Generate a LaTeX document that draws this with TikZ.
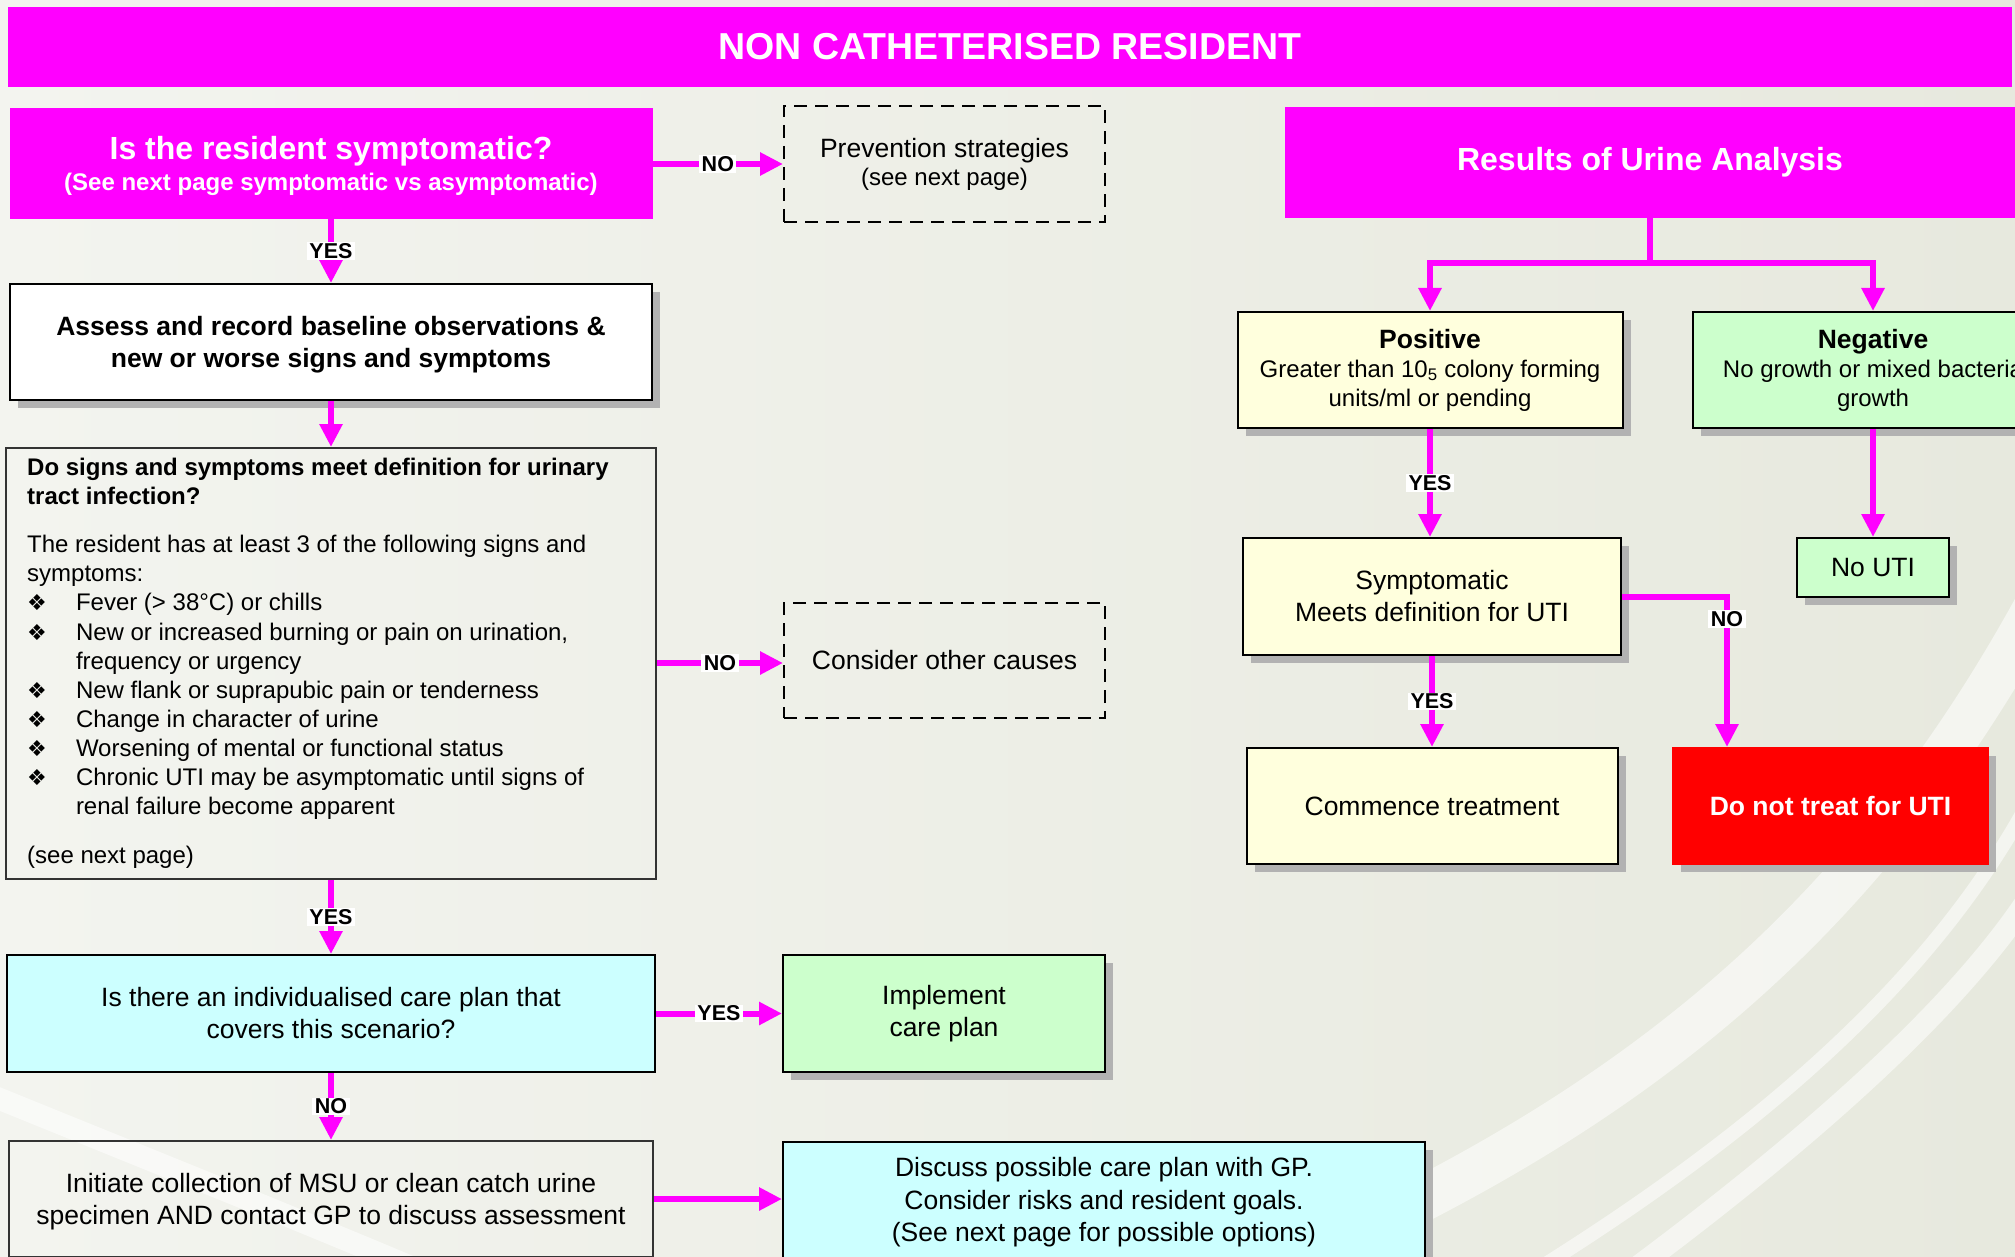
\documentclass[tikz,border=0pt]{standalone}
\usepackage{fontspec}
\setmainfont{Liberation Sans}
\newfontfamily\bulfont{DejaVu Sans}
\usetikzlibrary{arrows.meta,shadows,calc}
\definecolor{mag}{HTML}{FF00FF}
\definecolor{bgA}{HTML}{F3F4EF}
\definecolor{bgB}{HTML}{E7E9DE}
\definecolor{yel}{HTML}{FFFFDD}
\definecolor{grn}{HTML}{CCFFCC}
\definecolor{cyn}{HTML}{CCFFFF}
\definecolor{shd}{HTML}{B2B2B2}
\definecolor{redbox}{HTML}{FF0000}
\newcommand\ftitle{\fontsize{37.5}{44}\selectfont\bfseries}
\newcommand\fbig{\fontsize{32}{38}\selectfont\bfseries}
\newcommand\fmid{\fontsize{26.5}{32}\selectfont}
\newcommand\fsml{\fontsize{24}{29.1}\selectfont}
\newcommand\flab{\fontsize{21.5}{24}\selectfont\bfseries}
\newcommand\bul{\makebox[48.8pt][l]{\bulfont\fontsize{22}{22}\selectfont ❖}}
\newcommand\upst[1]{\rule{0pt}{#1}}
\begin{document}
\begin{tikzpicture}[x=1pt,y=-1pt,
  box/.style={draw=black, line width=2pt, rectangle, inner sep=0pt, align=center, text=black},
  shbox/.style={box, drop shadow={shadow xshift=8pt,shadow yshift=-8pt,fill=shd,opacity=1}},
  dbox/.style={draw=black, line width=2pt, dash pattern=on 13pt off 8pt, rectangle, align=center, inner sep=0pt},
  magbox/.style={fill=mag, text=white, rectangle, align=center, inner sep=0pt},
  flow/.style={draw=mag, line width=6pt, -{Triangle[length=23pt,width=22pt]}},
  link/.style={draw=mag, line width=6pt},
  lab/.style={fill=white, text=black, font=\flab, inner xsep=2.5pt, inner ysep=1pt},
  swoosh/.style={draw=white, opacity=0.55, line cap=round}
]
\useasboundingbox (0,0) rectangle (2015,1257);
\clip (0,0) rectangle (2015,1257);
\fill[left color=bgA, right color=bgB] (0,0) rectangle (2015,1257);
% decorative swooshes
\draw[swoosh, line width=45pt] (1250,1280) .. controls (1600,1130) and (1850,950) .. (2040,600);
\draw[swoosh, line width=14pt] (1520,1280) .. controls (1780,1120) and (1950,960) .. (2040,780);
\draw[swoosh, line width=22pt] (1620,1280) .. controls (1850,1110) and (1980,980) .. (2040,880);
\draw[swoosh, line width=22pt] (-10,1095) .. controls (150,1160) and (300,1220) .. (430,1275);

% nodes
\node[magbox, minimum width=2004pt, minimum height=80pt, font=\ftitle] (title) at (1010,47) {NON CATHETERISED RESIDENT};
\node[magbox, minimum width=643pt, minimum height=111pt] (symp) at (331,163.5)
  {{\fbig\upst{28.3pt}Is the resident symptomatic?}\\[6pt]{\fsml\bfseries (See next page symptomatic vs asymptomatic)}};
\node[dbox, minimum width=321pt, minimum height=116pt] (prev) at (944.5,164)
  {{\fmid Prevention strategies}\\[4pt]{\fsml (see next page)}};
\node[magbox, minimum width=730pt, minimum height=111pt, font=\fbig] (results) at (1650,162.5) {Results of Urine Analysis};

\node[shbox, fill=white, minimum width=642pt, minimum height=116pt, font=\fmid\bfseries] (assess) at (331,342)
  {\upst{24.3pt}Assess and record baseline observations \&\\new or worse signs and symptoms};

\node[box, draw=black!80, minimum width=650pt, minimum height=431pt] (dosigns) at (331,663.5) {};
\node[anchor=north west, inner sep=0pt, align=left, font=\fsml] (dotext) at (27,457.5)
  {\textbf{Do signs and symptoms meet definition for urinary}\\
   \textbf{tract infection?}\\[19.5pt]
   The resident has at least 3 of the following signs and\\
   symptoms:\\
   \bul Fever (> 38°C) or chills\\
   \bul New or increased burning or pain on urination,\\
   \hspace*{48.8pt}frequency or urgency\\
   \bul New flank or suprapubic pain or tenderness\\
   \bul Change in character of urine\\
   \bul Worsening of mental or functional status\\
   \bul Chronic UTI may be asymptomatic until signs of\\
   \hspace*{48.8pt}renal failure become apparent\\[19.5pt]
   (see next page)};

\node[dbox, minimum width=321pt, minimum height=115pt, font=\fmid] (consider) at (944.5,660.5) {Consider other causes};

\node[box, fill=cyn, minimum width=648pt, minimum height=117pt, font=\fmid] (careplan) at (331,1013.5)
  {Is there an individualised care plan that\\covers this scenario?};
\node[shbox, fill=grn, minimum width=322pt, minimum height=117pt, font=\fmid] (implement) at (944,1013.5)
  {Implement\\care plan};
\node[box, draw=black!80, minimum width=644pt, minimum height=116pt, font=\fmid] (initiate) at (331,1199)
  {\upst{24.3pt}Initiate collection of MSU or clean catch urine\\specimen AND contact GP to discuss assessment};
\node[shbox, fill=cyn, minimum width=642pt, minimum height=116pt, font=\fontsize{26.5}{32.5}\selectfont] (discuss) at (1104,1200)
  {\upst{24.3pt}Discuss possible care plan with GP.\\Consider risks and resident goals.\\(See next page for possible options)};

\node[shbox, fill=yel, minimum width=385pt, minimum height=116pt, font=\fsml] (positive) at (1430,370)
  {{\fmid\bfseries Positive}\\Greater than 10\textsubscript{5} colony forming\\units/ml or pending};
\node[shbox, fill=grn, minimum width=360pt, minimum height=116pt, font=\fsml] (negative) at (1873,370)
  {{\fmid\bfseries Negative}\\No growth or mixed bacteria\\growth};
\node[shbox, fill=grn, minimum width=152pt, minimum height=59pt, font=\fmid] (nouti) at (1873,567.5) {No UTI};
\node[shbox, fill=yel, minimum width=378pt, minimum height=117pt, font=\fmid] (sympt) at (1432,596.5)
  {Symptomatic\\Meets definition for UTI};
\node[shbox, fill=yel, minimum width=371pt, minimum height=116pt, font=\fmid] (commence) at (1432,806) {Commence treatment};
\node[shbox, fill=redbox, draw=redbox, text=white, minimum width=315pt, minimum height=116pt, font=\fmid\bfseries] (dontreat) at (1830.5,806) {Do not treat for UTI};

% connectors
\draw[flow] (symp.east |- prev.west) -- node[lab]{NO} (prev.west);
\draw[flow] (symp.south) -- node[lab]{YES} (assess.north);
\draw[flow] (assess.south) -- (dosigns.north);
\draw[flow] ([yshift=-2.5pt]dosigns.east |- consider.west) -- node[lab]{NO} ([yshift=-2.5pt]consider.west);
\draw[flow] (dosigns.south) -- node[lab]{YES} (careplan.north);
\draw[flow] (careplan.east |- implement.west) -- node[lab]{YES} (implement.west);
\draw[flow] (careplan.south) -- node[lab]{NO} (initiate.north);
\draw[flow] (initiate.east) -- (initiate.east -| discuss.west);

\coordinate (split) at (1650,263);
\draw[link] (results.south) -- (split);
\draw[flow] (split) -| (positive.north);
\draw[flow] (split) -| (negative.north);
\draw[flow] (positive.south) -- node[lab]{YES} (positive.south |- sympt.north);
\draw[flow] (negative.south) -- (nouti.north);
\draw[flow] (sympt.south) -- node[lab]{YES} (commence.north);
\coordinate (ntgt) at ($(dontreat.north west)+(55,0)$);
\draw[flow] (sympt.east) -| node[lab, pos=0.575]{NO} (ntgt);
\end{tikzpicture}
\end{document}
